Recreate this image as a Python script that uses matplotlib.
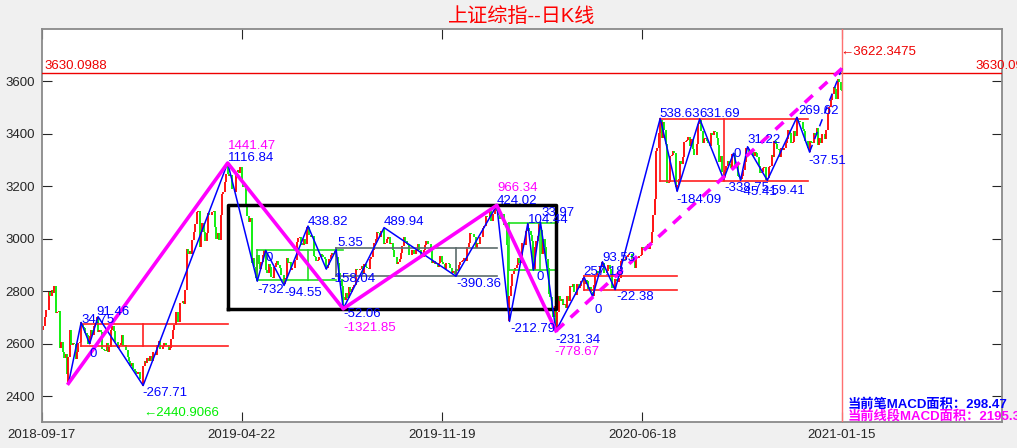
import matplotlib
matplotlib.use('Agg')
import matplotlib.pyplot as plt
import numpy as np

plt.rcParams['font.family'] = ['Liberation Sans', 'Noto Sans CJK SC', 'DejaVu Sans']

# 上证综指 日线收盘价, 2018-09-17 起
close = [
    2651, 2668, 2700, 2730, 2729, 2797, 2781, 2806, 2792, 2821, 2716, 2721, 2725, 2583, 2606, 2568, 2546, 2561, 2486, 2550,
    2654, 2595, 2603, 2598, 2542, 2568, 2603, 2606, 2676,
    2665, 2659, 2641, 2635, 2599, 2631,
    2654, 2632, 2668, 2679, 2703, 2645,
    2651, 2646, 2580, 2575, 2574, 2602, 2567, 2588, 2654, 2666, 2649, 2605, 2606, 2585, 2594, 2602,
    2634, 2593, 2597, 2577, 2550, 2536, 2516, 2527, 2504, 2498, 2483, 2494, 2494, 2465, 2464, 2515,
    2533, 2526, 2544, 2535, 2554, 2535, 2570, 2570, 2559, 2596, 2610, 2580, 2581, 2592, 2601,
    2597, 2594, 2575, 2584, 2618, 2653, 2671, 2721, 2719, 2682, 2755, 2754, 2761, 2751, 2804,
    2961, 2941, 2953, 2941, 2994, 3027, 3055, 3102, 3106, 2969, 3026, 3060, 3026, 2990, 3022,
    3096, 3091, 3090, 3101, 3104, 3043, 2997, 3022, 2994, 3091, 3171, 3176, 3216, 3247, 3245,
    3239, 3241, 3189, 3189, 3177, 3253, 3263, 3250, 3271, 3215, 3198, 3202, 3124, 3086, 3062, 3078,
    2906, 2927, 2894, 2850, 2939,
    2903, 2883, 2910, 2939, 2955, 2882,
    2870, 2905, 2891, 2853, 2852, 2892, 2909, 2915, 2899, 2890, 2862, 2861, 2827,
    2852, 2925, 2909, 2910, 2882, 2887, 2890, 2917, 2987, 3001, 3008, 2982, 2976, 2997, 2979, 3044, 3043,
    3015, 3005, 3011, 2933, 2929, 2915, 2917, 2930, 2942, 2937, 2931, 2924, 2887,
    2899, 2923, 2937, 2944, 2941, 2952, 2932,
    2908, 2868, 2845, 2821, 2778,
    2768, 2794, 2775, 2815, 2797, 2808, 2815, 2823, 2883, 2880, 2880, 2883, 2897, 2864, 2902,
    2893, 2890, 2886, 2924, 2930, 2957, 2985, 2999, 3024, 3021, 3008, 3031, 3030, 2978,
    2985, 2999, 3006, 2978, 2985, 2955, 2929, 2932, 2905, 2913, 2924, 2947, 2973, 3008, 2991, 2978, 2977,
    2938, 2939, 2955, 2941, 2940, 2955, 2980, 2955, 2939, 2929, 2958, 2975, 2991, 2978, 2979, 2964, 2909,
    2914, 2905, 2909, 2891, 2909, 2933, 2911, 2903, 2885, 2907, 2907, 2903, 2889, 2871, 2875, 2866, 2884,
    2878, 2899, 2912, 2914, 2917, 2925, 2915, 2968, 2984, 3022, 3017, 3017, 3005, 2963, 2982,
    2981, 3007, 3005, 3040, 3050, 3085, 3083, 3084, 3104, 3067, 3094, 3092, 3116, 3107,
    3090, 3074, 3075, 3095, 3053, 3061, 2977, 2747, 2783,
    2818, 2867, 2876, 2890, 2901, 2927, 2906, 2917, 2984, 2984, 2975, 3030, 3039,
    3031, 3013, 2991, 2880,
    2970, 2992, 3012, 3058, 3034,
    2943, 2997, 2969, 2923, 2887, 2789, 2779, 2728, 2702, 2745, 2660,
    2722, 2781, 2764, 2772, 2747, 2750, 2735, 2780, 2764, 2821, 2815, 2826, 2797, 2784, 2827, 2811, 2819, 2838, 2852, 2827,
    2843, 2839, 2808, 2815, 2796, 2783,
    2822, 2860, 2878, 2871, 2895, 2894, 2908,
    2870, 2868, 2875, 2898, 2883, 2867, 2814, 2818, 2846,
    2837, 2836, 2852, 2916, 2921, 2923, 2919, 2930, 2937, 2943, 2943, 2920, 2920, 2890, 2931, 2927,
    2935, 2939, 2967, 2965, 2970, 2962, 2979, 2961, 2985, 3025, 3090, 3152, 3332, 3345, 3403, 3450,
    3383, 3443, 3415, 3361, 3210, 3214, 3314, 3320, 3333, 3325, 3196, 3205,
    3228, 3294, 3286, 3310, 3367, 3371, 3377, 3386, 3354, 3379, 3340, 3320, 3320, 3360, 3438, 3451,
    3409, 3363, 3381, 3385, 3373, 3364, 3351, 3404, 3396, 3410, 3405, 3384, 3355, 3292, 3316, 3254, 3235,
    3260, 3278, 3295, 3283, 3270, 3323, 3316,
    3275, 3280, 3240, 3235, 3226,
    3238, 3262, 3290, 3345, 3340,
    3330, 3332, 3336, 3313, 3328, 3325, 3312, 3278, 3251, 3254, 3270, 3273, 3225, 3232,
    3272, 3278, 3320, 3312, 3373, 3360, 3342, 3338, 3311, 3347, 3339, 3347, 3363, 3378, 3414, 3402,
    3363, 3369, 3408, 3392, 3451,
    3449, 3443, 3445, 3416, 3411, 3371, 3373, 3347, 3370,
    3367, 3366, 3404, 3394, 3421, 3357, 3383, 3363, 3397, 3398, 3379, 3414, 3473, 3503, 3528, 3550,
    3576, 3570, 3531, 3608, 3598, 3566, 3562,
]

tick_pos = [0, 142, 284, 426, 568]
tick_lab = ['2018-09-17', '2019-04-22', '2019-11-19', '2020-06-18', '2021-01-15']

# 笔的端点 (K线序号, 价格)
bi_x = [19, 28, 34, 40, 72, 132, 153, 159, 172, 189, 202, 209, 214, 243, 294, 323, 332, 345, 349, 354,
        365, 385, 391, 398, 407, 439, 451, 467, 484, 491, 496, 501, 515, 536, 545, 568]
bi_y = [2449, 2681, 2600, 2703, 2440.9, 3288, 2838, 2955, 2822, 3048, 2884, 2958, 2733, 3042, 2857,
        3127, 2685, 3058, 2880, 3062, 2649, 2853, 2780, 2912, 2806, 3458, 3180, 3456, 3226, 3325,
        3222, 3350, 3222, 3462, 3330, 3648]
# 线段端点 (笔端点序号)
seg_pts = [0, 5, 12, 15, 20, 35]

# 笔MACD面积标注
bi_txt = ['34.75', '91.46', '0', '-267.71', '1116.84', '-732', '-94.55', '0', '438.82', '5.35',
          '-158.04', '-52.06', '489.94', '-390.36', '424.02', '-212.79', '104.44', '33.97', '0',
          '-231.34', '257.18', '0', '93.53', '-22.38', '538.63', '631.69', '-184.09', '-338.75',
          '0', '-45.41', '31.22', '-59.41', '269.62', '-37.51']
bi_tx = [28.3, 39.1, 34.2, 71.7, 132.2, 153.0, 172.2, 158.7, 189.1, 209.7, 205.0, 214.2, 242.7,
         294.0, 323.1, 332.4, 345.2, 354.4, 350.9, 364.4, 384.3, 392.2, 397.9, 407.8, 438.4,
         466.8, 450.6, 484.6, 491.0, 495.2, 500.9, 515.1, 537.2, 544.3]
bi_ty = [2691, 2720, 2562, 2414, 3307, 2805, 2794, 2927, 3064, 2984, 2847, 2714, 3064, 2828, 3144,
         2657, 3072, 3098, 2855, 2615, 2874, 2729, 2927, 2779, 3475, 3475, 3148, 3193, 3322, 3178,
         3376, 3182, 3486, 3296]
# 线段MACD面积标注
seg_txt = ['1441.47', '-1321.85', '966.34', '-778.67']
seg_tx = [132.2, 214.2, 323.1, 363.7]
seg_ty = [3353, 2661, 3193, 2570]

# 中枢: (左, 中, 右上, 右下, 下沿, 上沿, 颜色)
zs = [
    (28, 72, 132, 132, 2591, 2677, '#ff2020'),
    (153, 189, 214, 209, 2841, 2957, '#20e020'),
    (209, 294, 323, 323, 2859, 2965, '#5c6c6c'),
    (332, 354, 364, 364, 2881, 3059, '#20e020'),
    (385, None, 451, 451, 2804, 2856, '#ff2020'),
    (439, 484, 544, 544, 3221, 3456, '#ff2020'),
]
big_zs = (132, 365, 2733, 3127)

hi_line = 3630.0988
low_val = 2440.9066
last_val = 3622.3475
bi_macd = 298.47
seg_macd = 2195.38

fig = plt.figure(figsize=(10.17, 4.48), dpi=100, facecolor='#f0f0f0')
ax = fig.add_axes([0.041, 0.058, 0.9443, 0.8772])
ax.set_facecolor('white')

c = np.array(close, dtype=float)
o = np.r_[c[0], c[:-1]]
x = np.arange(len(c))
lo = np.minimum(o, c)
hi = np.maximum(o, c)
for bx, by in zip(bi_x[:-1], bi_y[:-1]):
    lo[bx] = min(lo[bx], by)
    hi[bx] = max(hi[bx], by)
cols = np.where(c >= o, '#ff0000', '#00ee00')
ax.vlines(x, lo, hi, colors=cols, lw=1.3, zorder=2)

# 中枢
for l, m, r1, r2, b, t, col in zs:
    ax.plot([l, r1], [t, t], color=col, lw=1.2, zorder=3)
    ax.plot([l, r2], [b, b], color=col, lw=1.2, zorder=3)
    ax.plot([l, l], [b, t], color=col, lw=1.2, zorder=3)
    if m is not None:
        ax.plot([m, m], [b, t], color=col, lw=1.2, zorder=3)
l, r, b, t = big_zs
ax.plot([l, r, r, l, l], [b, b, t, t, b], color='black', lw=2.5, zorder=3)

# 笔
ax.plot(bi_x[:-1], bi_y[:-1], color='#0000ff', lw=1.1, zorder=4)
ax.plot(bi_x[-2:], bi_y[-2:], color='#0000ff', lw=1.1, ls=(0, (5, 4)), zorder=4)

# 线段
sx = [bi_x[i] for i in seg_pts]
sy = [bi_y[i] for i in seg_pts]
ax.plot(sx[:-1], sy[:-1], color='#ff00ff', lw=2.6, zorder=5)
ax.plot(sx[-2:], sy[-2:], color='#ff00ff', lw=2.6, ls=(0, (3, 2.5)), zorder=5)

for s, tx, ty in zip(bi_txt, bi_tx, bi_ty):
    ax.text(tx, ty, s, color='#0000ff', fontsize=9.5, ha='left', va='center', zorder=6)
for s, tx, ty in zip(seg_txt, seg_tx, seg_ty):
    ax.text(tx, ty, s, color='#ff00ff', fontsize=9.5, ha='left', va='center', zorder=6)

# 最高线与当前K线
ax.axhline(hi_line, color='#ee0000', lw=1.0, zorder=3)
ax.axvline(len(c) - 1, color='#ff7070', lw=1.0, zorder=3)
ax.text(2.3, hi_line + 4, f'{hi_line:.4f}', color='#ee0000', fontsize=9.5, ha='left', va='bottom')
ax.text(662.6, hi_line + 4, f'{hi_line:.4f}', color='#ee0000', fontsize=9.5, ha='left', va='bottom',
        clip_on=False)
ax.text(71.9, 2338, f'\u2190{low_val:.4f}', color='#00ee00', fontsize=9.5, ha='left', va='center')
ax.text(567, 3710, f'\u2190{last_val:.4f}', color='#ee0000', fontsize=9.5, ha='left', va='center')
ax.text(571.8, 2367, f'当前笔MACD面积：{bi_macd:.2f}', color='#0000ff', fontsize=9.5,
        fontweight='bold', ha='left', va='center', clip_on=False)
ax.text(571.8, 2322, f'当前线段MACD面积：{seg_macd:.2f}', color='#ff00ff', fontsize=9.5,
        fontweight='bold', ha='left', va='center', clip_on=False)

ax.set_xlim(0, 681.6)
ax.set_ylim(2302, 3798)
ax.set_xticks(tick_pos)
ax.set_xticklabels(tick_lab)
ax.set_yticks(np.arange(2400, 3601, 200))
ax.tick_params(direction='in', length=7, width=0.8, top=True, right=True,
               labelsize=9.5, colors='#262626', pad=5)
for sp in ax.spines.values():
    sp.set_color('#8a8a8a')
    sp.set_linewidth(1.3)

ax.set_title('上证综指--日K线', color='#ff0000', fontsize=14.5, pad=5)

fig.savefig('out.png', dpi=100, facecolor=fig.get_facecolor())
